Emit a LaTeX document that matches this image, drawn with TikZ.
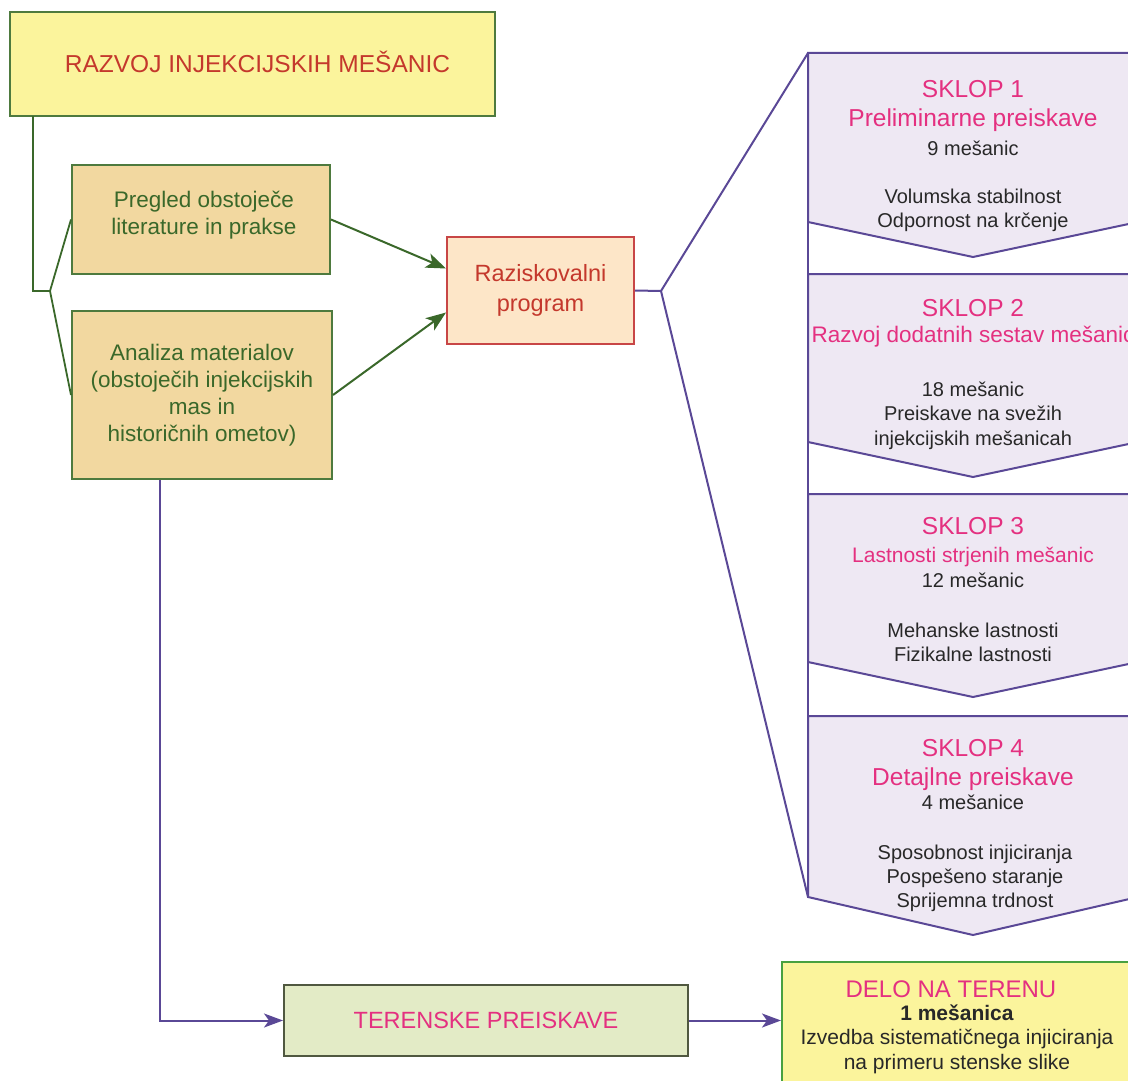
\documentclass[tikz,border=0pt]{standalone}
\usepackage{fontspec}
\setmainfont{Liberation Sans}
\usetikzlibrary{arrows.meta}
\definecolor{titlered}{RGB}{196,56,44}
\definecolor{boxgreen}{RGB}{78,122,62}
\definecolor{txtgreen}{RGB}{58,104,42}
\definecolor{yellowfill}{RGB}{251,244,156}
\definecolor{tanfill}{RGB}{242,216,160}
\definecolor{peachfill}{RGB}{253,230,200}
\definecolor{razred}{RGB}{200,70,70}
\definecolor{purp}{RGB}{90,72,150}
\definecolor{lavfill}{RGB}{238,232,243}
\definecolor{pink}{RGB}{228,48,128}
\definecolor{txtblack}{RGB}{40,40,40}
\definecolor{terfill}{RGB}{227,235,198}
\definecolor{terdraw}{RGB}{80,88,64}
\definecolor{delogreen}{RGB}{72,160,64}
\begin{document}
\begin{tikzpicture}[x=1pt,y=-1pt,
  box/.style={draw, line width=2pt, inner sep=0pt, align=center},
  greentxt/.style={text=txtgreen, font=\fontsize{22.5}{27}\selectfont, align=center},
  sklop/.style={fill=lavfill, draw=purp, line width=2pt},
  pinktxt/.style={text=pink, align=center, anchor=base},
  blacktxt/.style={text=txtblack, font=\fontsize{20}{24.5}\selectfont, align=center, anchor=base},
  garrow/.style={draw=txtgreen, line width=2pt, -{Stealth[length=20pt,width=15pt,inset=5pt]}},
  parrow/.style={draw=purp, line width=2pt, -{Stealth[length=19pt,width=14pt,inset=5pt]}},
  gline/.style={draw=txtgreen, line width=1.8pt},
  pline/.style={draw=purp, line width=2pt}]
\useasboundingbox (0,0) rectangle (1128,1081);
\clip (0,0) rectangle (1128,1081);

% top box
\node[box, draw=boxgreen, fill=yellowfill, minimum width=485pt, minimum height=104pt,
      text=titlered, font=\fontsize{24.5}{28}\selectfont] (top) at (252.5,64) {\hspace*{10pt}\raisebox{5pt}{RAZVOJ INJEKCIJSKIH MEŠANIC}};

% left boxes
\node[box, draw=boxgreen, fill=tanfill, minimum width=258pt, minimum height=109pt] (pregled) at (201,219.5) {};
\node[greentxt] (pregledtxt) at (204,215) {Pregled obstoječe\\literature in prakse};
\node[box, draw=boxgreen, fill=tanfill, minimum width=260pt, minimum height=168pt, greentxt] (analiza) at (202,395)
  {Analiza materialov\\(obstoječih injekcijskih\\mas in\\historičnih ometov)};

% raziskovalni program
\node[box, draw=razred, fill=peachfill, minimum width=187pt, minimum height=107pt,
      text=titlered, font=\fontsize{23.5}{30}\selectfont] (razisk) at (540.5,290.5) {\raisebox{3pt}{\parbox{180pt}{\centering Raziskovalni\\program}}};

% left connector
\coordinate (ltop) at (33,116);
\coordinate (lfork) at (50,291);
\draw[gline] (ltop) |- (lfork) -- (pregled.west);
\draw[gline] (lfork) -- (analiza.west);

% green arrows
\draw[garrow] (pregled.east) -- ([yshift=22pt]razisk.west);
\draw[garrow] (analiza.east) -- ([yshift=-22pt]razisk.west);

% SKLOP shapes
\draw[sklop] (808,53) -- (1138,53) -- (1138,222) -- (973,257) -- (808,222) -- cycle;
\draw[sklop] (808,274) -- (1138,274) -- (1138,442) -- (973,477) -- (808,442) -- cycle;
\draw[sklop] (808,494) -- (1138,494) -- (1138,662) -- (973,697) -- (808,662) -- cycle;
\draw[sklop] (808,716) -- (1138,716) -- (1138,897) -- (973,935) -- (808,897) -- cycle;
\coordinate (s1nw) at (808,53);
\coordinate (s4sw) at (808,897);
\draw[pline] (s1nw) -- (s4sw);

% fork from raziskovalni program
\coordinate (rfork) at (661,291);
\draw[pline] (razisk.east) -- (rfork) -- (s1nw);
\draw[pline] (rfork) -- (s4sw);

% SKLOP 1 texts (base = last line baseline)
\node[pinktxt, font=\fontsize{24.5}{29}\selectfont] (s1t) at (973,126) {SKLOP 1\\Preliminarne preiskave};
\node[blacktxt] (s1a) at (973,155) {9 mešanic};
\node[blacktxt, font=\fontsize{20}{24}\selectfont] (s1b) at (973,227) {Volumska stabilnost\\Odpornost na krčenje};

% SKLOP 2 texts
\node[pinktxt, font=\fontsize{24.5}{27}\selectfont] (s2t) at (973,316) {SKLOP 2};
\node[pinktxt, font=\fontsize{22.5}{27}\selectfont] (s2s) at (973,342) {Razvoj dodatnih sestav mešanic};
\node[blacktxt] (s2a) at (973,445) {18 mešanic\\Preiskave na svežih\\injekcijskih mešanicah};

% SKLOP 3 texts
\node[pinktxt, font=\fontsize{24.5}{27}\selectfont] (s3t) at (973,534) {SKLOP 3};
\node[pinktxt, font=\fontsize{21}{27}\selectfont] (s3s) at (973,562) {Lastnosti strjenih mešanic};
\node[blacktxt] (s3a) at (973,587) {12 mešanic};
\node[blacktxt, font=\fontsize{20}{24}\selectfont] (s3b) at (973,661) {Mehanske lastnosti\\Fizikalne lastnosti};

% SKLOP 4 texts
\node[pinktxt, font=\fontsize{24.5}{29}\selectfont] (s4t) at (973,785) {SKLOP 4\\Detajlne preiskave};
\node[blacktxt] (s4a) at (973,809) {4 mešanice};
\node[blacktxt, font=\fontsize{20}{24}\selectfont] (s4b) at (975,907) {Sposobnost injiciranja\\Pospešeno staranje\\Sprijemna trdnost};

% bottom boxes
\node[box, draw=terdraw, fill=terfill, minimum width=404pt, minimum height=71pt,
      text=pink, font=\fontsize{23.5}{28}\selectfont] (terenske) at (486,1020.5) {TERENSKE PREISKAVE};
\node[box, draw=delogreen, fill=yellowfill, minimum width=358pt, minimum height=133pt] (delo) at (961,1028) {};
\node[pinktxt, font=\fontsize{24}{28}\selectfont] (delotitle) at (951,997) {DELO NA TERENU};
\node[anchor=base, align=center, text=txtblack, font=\fontsize{21}{24.5}\selectfont] (delotxt) at (957,1069)
  {\textbf{1 mešanica}\\Izvedba sistematičnega injiciranja\\na primeru stenske slike};

% bottom connectors
\draw[parrow] ([xshift=-42pt]analiza.south) |- (terenske.west);
\draw[parrow] (terenske.east) -- (terenske.east -| delo.west);
\end{tikzpicture}
\end{document}
